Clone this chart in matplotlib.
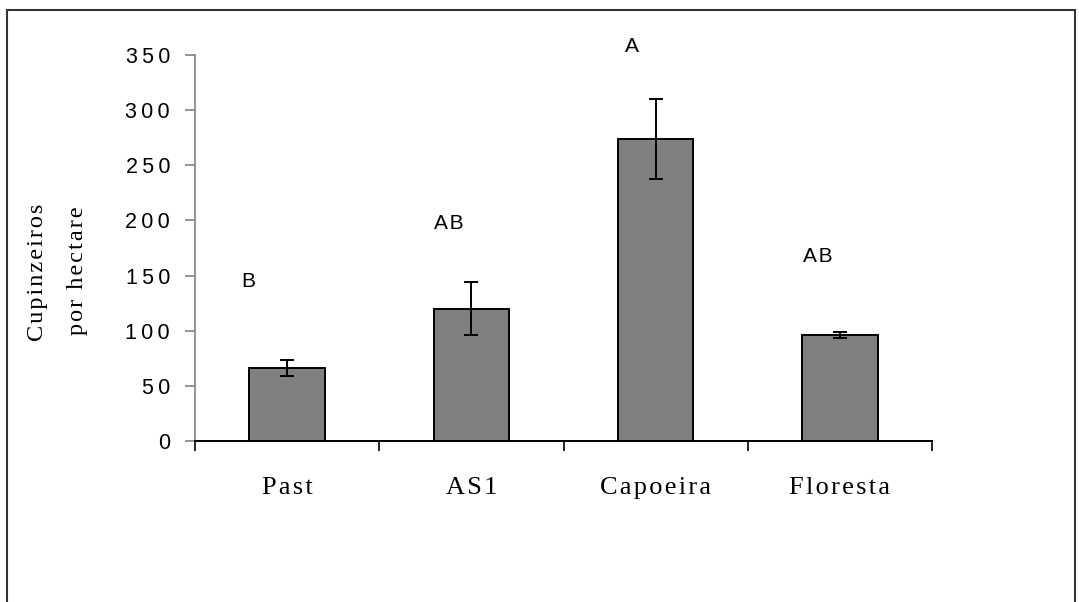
import matplotlib
matplotlib.use("Agg")
import matplotlib.pyplot as plt
import numpy as np
from matplotlib.patches import Rectangle

categories = ['Past', 'AS1', 'Capoeira', 'Floresta']
means = [66, 120, 274, 96]
errors = [7, 24, 36, 3]
letters = ['B', 'AB', 'A', 'AB']

# annotation placement (data units)
letter_x_off = [-0.21, -0.12, -0.13, -0.12]
letter_y = [145, 197, 358, 167]

SANS = 'Liberation Sans'
SERIF = 'Liberation Serif'
THIN = '\u2009'
HAIR = '\u200a'


def spaced(s, sep):
    # the original uses letter spacing; fake it with narrow spaces
    return sep.join(s)


fig = plt.figure(figsize=(10.79, 6.02), dpi=100)
ax = fig.add_axes([195 / 1079, 1 - 441 / 602, (932 - 195) / 1079, (441 - 55) / 602])

x = np.arange(len(categories))
ax.bar(x, means, width=0.41, color='#808080', edgecolor='black', linewidth=1.4, zorder=2)
ax.errorbar(x, means, yerr=errors, fmt='none', ecolor='black', elinewidth=1.4,
            capsize=5, capthick=1.4, zorder=3)

for xi, off, ly, lt in zip(x, letter_x_off, letter_y, letters):
    ax.text(xi + off, ly, spaced(lt, HAIR), ha='center', va='center', fontsize=15,
            family=SANS, clip_on=False)

ax.set_xlim(-0.5, len(categories) - 0.5)
ax.set_ylim(0, 350)
yt = np.arange(0, 351, 50)
ax.set_yticks(yt)
ax.set_yticklabels([spaced(str(v), THIN) for v in yt], family=SANS, fontsize=15.5)
ax.tick_params(axis='y', direction='out', length=7, width=1.2, color='#808080', pad=11)

# boundary ticks on major, category names on minor
ax.set_xticks(np.arange(-0.5, len(categories)))
ax.set_xticklabels([])
ax.set_xticks(x, minor=True)
ax.set_xticklabels([spaced(c, HAIR) for c in categories], minor=True, family=SERIF, fontsize=19)
ax.tick_params(axis='x', which='major', direction='out', length=7, width=1.2, color='black')
ax.tick_params(axis='x', which='minor', length=0, pad=26)

for s in ['top', 'right']:
    ax.spines[s].set_visible(False)
ax.spines['left'].set_color('#808080')
ax.spines['left'].set_linewidth(1.2)
ax.spines['bottom'].set_color('black')
ax.spines['bottom'].set_linewidth(1.4)

fig.text(37 / 1079, 1 - 272 / 602, spaced('Cupinzeiros', HAIR), rotation=90, ha='center',
         va='center', family=SERIF, fontsize=17.5)
fig.text(78 / 1079, 1 - 271 / 602, spaced('por hectare', HAIR), rotation=90, ha='center',
         va='center', family=SERIF, fontsize=17.5)

# outer frame of the figure
fig.patches.append(Rectangle((7 / 1079, -0.1), (1075 - 7) / 1079, 1.1 - 10 / 602,
                             transform=fig.transFigure, fill=False,
                             edgecolor='#333333', linewidth=1.5))

fig.savefig('out.png', dpi=100)
